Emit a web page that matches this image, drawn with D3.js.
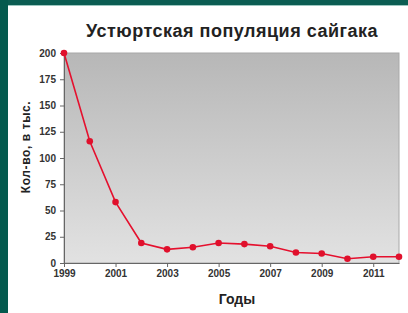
<!DOCTYPE html>
<html>
<head>
<meta charset="utf-8">
<script src="https://cdn.jsdelivr.net/npm/d3@7"></script>
<style>
  body { margin: 0; background: #fff; }
  svg { display: block; font-family: "Liberation Sans", Arial, sans-serif; }
</style>
</head>
<body>
<div id="graph"></div>
<script>
// Ustyurt saiga population, thousands
var years = [1999, 2000, 2001, 2002, 2003, 2004, 2005, 2006, 2007, 2008, 2009, 2010, 2011, 2012];
var totals = [200, 116, 58, 19, 13, 15, 19, 18, 16, 10, 9, 4, 6, 6];
var yTicks = [0, 25, 50, 75, 100, 125, 150, 175, 200];
var xTickYears = [1999, 2001, 2003, 2005, 2007, 2009, 2011];

var W = 408, H = 313;
var margin = {top: 53, right: 9, bottom: 50, left: 64};
var width = W - margin.left - margin.right,
    height = H - margin.top - margin.bottom;

var svg = d3.select("#graph").append("svg")
    .attr("width", W)
    .attr("height", H);

// slide frame
var defs = svg.append("defs");
var bg = defs.append("linearGradient").attr("id", "plotbg")
    .attr("x1", 0).attr("y1", 0).attr("x2", 0).attr("y2", 1);
bg.append("stop").attr("offset", "0%").attr("stop-color", "#b7b7b7");
bg.append("stop").attr("offset", "100%").attr("stop-color", "#e2e2e2");

svg.append("rect").attr("x", 0).attr("y", 0).attr("width", W).attr("height", 5).attr("fill", "#0b5d52");
svg.append("rect").attr("x", 0).attr("y", 5).attr("width", W).attr("height", 1).attr("fill", "#9cc7c0");
svg.append("rect").attr("x", 0).attr("y", 0).attr("width", 8).attr("height", H).attr("fill", "#045a4e");

var g = svg.append("g")
    .attr("transform", "translate(" + margin.left + "," + margin.top + ")");

var xScale = d3.scalePoint()
    .domain(years)
    .range([0, width]);

var yScale = d3.scaleLinear()
    .domain([0, 200])
    .range([height, 0]);

// plot area
g.append("rect")
    .attr("width", width)
    .attr("height", height)
    .attr("fill", "url(#plotbg)")
    .attr("stroke", "#a8a8a8")
    .attr("stroke-width", 1);

// title
svg.append("text")
    .attr("x", 232)
    .attr("y", 37)
    .attr("text-anchor", "middle")
    .style("font-size", "18px")
    .style("font-weight", "bold")
    .style("letter-spacing", "0.5px")
    .style("fill", "#222")
    .text("Устюртская популяция сайгака");

// y axis
var yAxis = g.append("g")
    .attr("class", "y axis")
    .call(d3.axisLeft(yScale).tickValues(yTicks).tickSize(4).tickPadding(4));
yAxis.select(".domain").attr("stroke", "#666");
yAxis.selectAll(".tick line").attr("stroke", "#666");
yAxis.selectAll("text")
    .style("font-size", "10px")
    .style("font-weight", "bold")
    .style("fill", "#333");

// x axis
var xAxis = g.append("g")
    .attr("class", "x axis")
    .attr("transform", "translate(0," + height + ")")
    .call(d3.axisBottom(xScale).tickValues(xTickYears).tickSize(4).tickSizeOuter(0).tickPadding(3));
xAxis.select(".domain").attr("stroke", "#666");
xAxis.selectAll(".tick line").attr("stroke", "#666");
xAxis.selectAll("text")
    .style("font-size", "10px")
    .style("font-weight", "bold")
    .style("fill", "#333");

// axis titles
svg.append("text")
    .attr("transform", "translate(30,147) rotate(-90)")
    .attr("text-anchor", "middle")
    .style("font-size", "12px")
    .style("font-weight", "bold")
    .style("letter-spacing", "0.6px")
    .style("fill", "#222")
    .text("Кол-во, в тыс.");

svg.append("text")
    .attr("x", 237)
    .attr("y", 304)
    .attr("text-anchor", "middle")
    .style("font-size", "14px")
    .style("font-weight", "bold")
    .style("fill", "#222")
    .text("Годы");

// line + dots
var dataset = years.map(function(y, i) { return {year: y, total: totals[i]}; });

var line = d3.line()
    .x(function(d) { return xScale(d.year); })
    .y(function(d) { return yScale(d.total); });

g.append("path")
    .datum(dataset)
    .attr("fill", "none")
    .attr("stroke", "#e5102e")
    .attr("stroke-width", 1.6)
    .attr("d", line);

g.selectAll(".dot")
    .data(dataset)
    .enter().append("circle")
    .attr("class", "dot")
    .attr("cx", function(d) { return xScale(d.year); })
    .attr("cy", function(d) { return yScale(d.total); })
    .attr("r", 3.3)
    .attr("fill", "#e0102c");
</script>
</body>
</html>
